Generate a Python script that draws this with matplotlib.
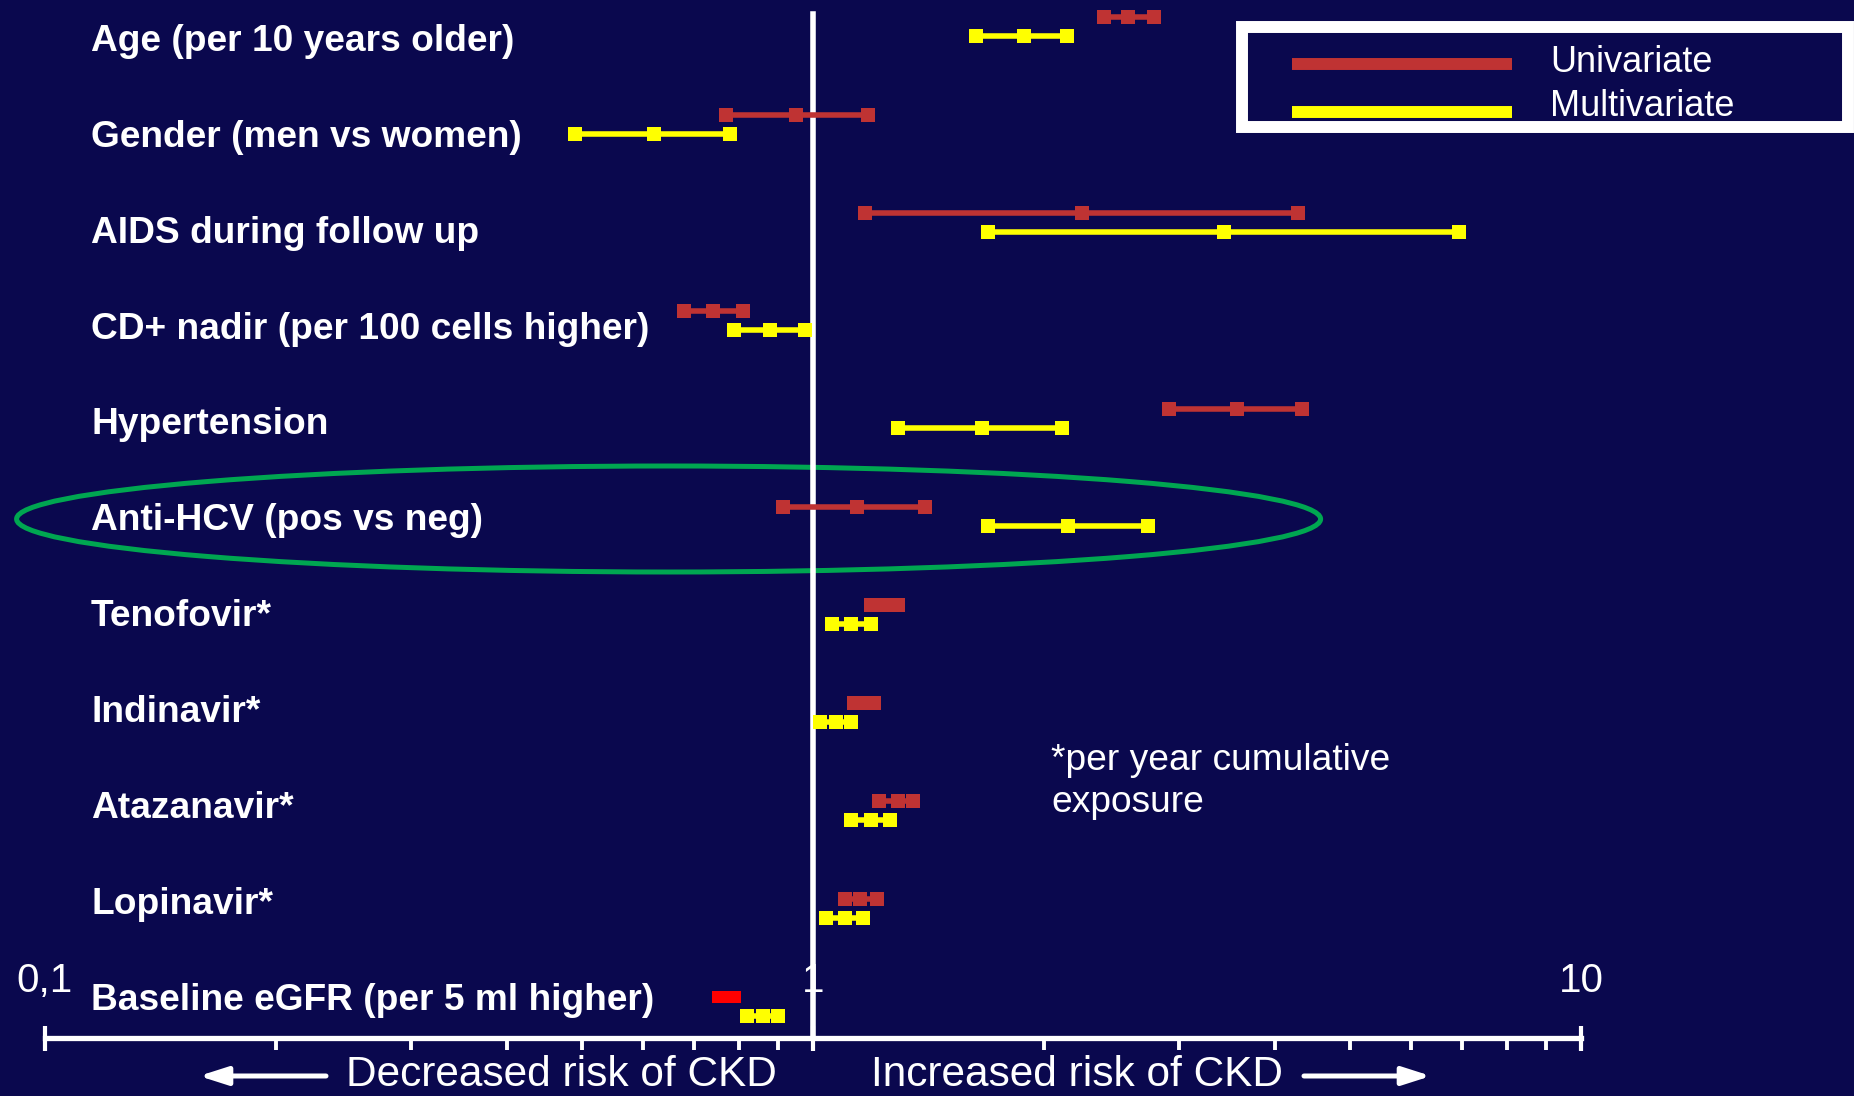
import matplotlib
matplotlib.use('Agg')
import matplotlib.pyplot as plt
import matplotlib.transforms as mtransforms
from matplotlib.patches import Ellipse, Rectangle
from matplotlib.lines import Line2D

# DATA ---------------------------------------------------------------------------------------------
factors = ["Age (per 10 years older)", "Gender (men vs women)", "AIDS during follow up",
           "CD+ nadir (per 100 cells higher)", "Hypertension", "Anti-HCV (pos vs neg)",
           "Tenofovir*", "Indinavir*", "Atazanavir*", "Lopinavir*",
           "Baseline eGFR (per 5 ml higher)"]

# hazard ratios with 95% CI
uni_lo = [2.39, 0.77, 1.17, 0.68, 2.91, 0.915, 1.19, 1.13, 1.22, 1.10, 0.752]
uni_hr = [2.57, 0.95, 2.24, 0.74, 3.56, 1.14, 1.24, 1.165, 1.29, 1.15, 0.772]
uni_hi = [2.78, 1.18, 4.28, 0.81, 4.33, 1.40, 1.29, 1.20, 1.35, 1.21, 0.792]

multi_lo = [1.63, 0.49, 1.69, 0.79, 1.29, 1.69, 1.06, 1.02, 1.12, 1.04, 0.82]
multi_hr = [1.88, 0.62, 3.43, 0.88, 1.66, 2.15, 1.12, 1.07, 1.19, 1.10, 0.86]
multi_hi = [2.14, 0.78, 6.94, 0.975, 2.11, 2.73, 1.19, 1.12, 1.26, 1.16, 0.90]

major_ticks = [0.1, 1, 10]
major_labels = ['0,1', '1', '10']
minor_ticks = [0.2, 0.3, 0.4, 0.5, 0.6, 0.7, 0.8, 0.9, 2, 3, 4, 5, 6, 7, 8, 9]

# STYLE --------------------------------------------------------------------------------------------
W, H = 1854, 1096
BG = '#0a084e'
RED = '#bf3333'
YEL = '#ffff00'
FONT = 'Liberation Sans'
plt.rcParams['font.family'] = [FONT, 'DejaVu Sans']

fig = plt.figure(figsize=(W / 100, H / 100), dpi=100, facecolor=BG)
ax = fig.add_axes([0, 0, 1, 1], facecolor=BG)
ax.set_xscale('log')

# 0.1 sits at x=45px and 10 at x=1581px
px_dec = (1581 - 45) / 2
ax.set_xlim(10 ** (-1 - 45 / px_dec), 10 ** (-1 + (W - 45) / px_dec))
# one row = 98px, first univariate row 16.5px from top
row_px = 98.0
ax.set_ylim((H - 16.5) / row_px, -16.5 / row_px)
y_axis = (1038 - 16.5) / row_px

# ROWS ---------------------------------------------------------------------------------------------
for i in range(len(factors)):
    c = '#ff0000' if i == len(factors) - 1 else RED
    ms = 8 if i == len(factors) - 1 else 10.5
    ax.plot([uni_lo[i], uni_hr[i], uni_hi[i]], [i] * 3, color=c, lw=4,
            marker='s', ms=ms, mew=0, solid_capstyle='butt', zorder=4)
    ax.plot([multi_lo[i], multi_hr[i], multi_hi[i]], [i + 0.195] * 3, color=YEL, lw=4,
            marker='s', ms=10.5, mew=0, solid_capstyle='butt', zorder=4)

lab_tr = mtransforms.blended_transform_factory(ax.transAxes, ax.transData)
for i, name in enumerate(factors):
    ax.text(91 / W, 0.253 + 0.9786 * i, name, transform=lab_tr, color='white',
            fontsize=26.7, fontweight='bold', va='center', ha='left')

# line of no effect
ax.axvline(1, ymin=1 - 1038 / H, ymax=1 - 14 / H, color='white', lw=4, zorder=3)

# highlight around Anti-HCV
ax.add_patch(Ellipse((668.6 / W, 1 - 519 / H), 1304 / W, 106 / H, transform=ax.transAxes,
                     fill=False, ec='#00a651', lw=3.6, zorder=2))

# AXIS ---------------------------------------------------------------------------------------------
for s in ['left', 'right', 'top']:
    ax.spines[s].set_visible(False)
ax.spines['bottom'].set_position(('data', y_axis))
ax.spines['top'].set_position(('data', y_axis))
ax.spines['bottom'].set_bounds(0.1, 10)
ax.spines['bottom'].set_color('white')
ax.spines['bottom'].set_linewidth(3.8)
ax.set_yticks([])
ax.set_xticks(major_ticks, major_labels)
ax.set_xticks(minor_ticks, minor=True)
ax.tick_params(axis='x', which='major', direction='inout', length=18, width=3,
               colors='white', top=False, labelbottom=False, labeltop=True,
               labelsize=29, pad=18.6)
ax.tick_params(axis='x', which='minor', direction='out', length=8.6, width=2.8,
               colors='white', top=False, labelbottom=False, labeltop=False)

# direction texts and arrows
fig.text(346 / W, 1 / H, 'Decreased risk of CKD', color='white', fontsize=30.5,
         va='bottom', ha='left')
fig.text(871 / W, 1 / H, 'Increased risk of CKD', color='white', fontsize=30.5,
         va='bottom', ha='left')
arrow = dict(arrowstyle='-|>,head_length=1.0,head_width=0.32', lw=3.6, color='white',
             shrinkA=0, shrinkB=0, mutation_scale=17)
ax.annotate('', xy=(199 / W, 1 - 1076 / H), xytext=(326 / W, 1 - 1076 / H),
            xycoords='figure fraction', arrowprops=arrow)
ax.annotate('', xy=(1431 / W, 1 - 1076 / H), xytext=(1304 / W, 1 - 1076 / H),
            xycoords='figure fraction', arrowprops=arrow)

fig.text(1051 / W, 1 - 781.5 / H, '*per year cumulative\nexposure', color='white',
         fontsize=26.7, va='center', ha='left', linespacing=1.27)

# LEGEND -------------------------------------------------------------------------------------------
fig.add_artist(Rectangle((1242 / W, 1 - 126.5 / H), (1848 - 1242) / W, 100 / H,
                         transform=fig.transFigure, facecolor=BG, edgecolor='white', lw=8.6))
for yy, ty, col, txt in [(64, 62, RED, 'Univariate'), (112, 107, YEL, 'Multivariate')]:
    fig.add_artist(Line2D([1292 / W, 1512 / W], [1 - yy / H] * 2, transform=fig.transFigure,
                          color=col, lw=8.6, solid_capstyle='butt'))
    fig.text(1550 / W, 1 - ty / H, txt, color='white', fontsize=26, va='center', ha='left')

fig.savefig('out.png', dpi=100, facecolor=BG)
